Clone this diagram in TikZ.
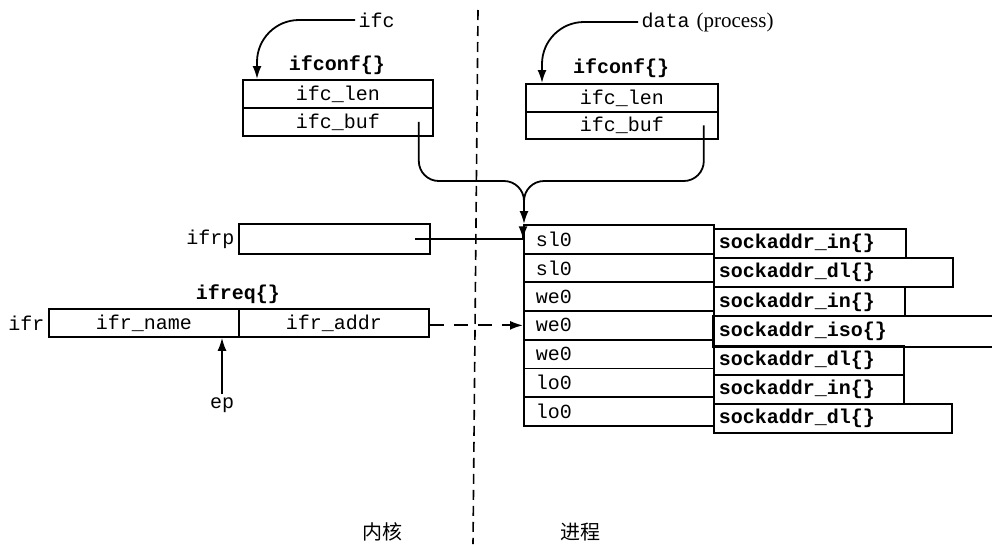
\documentclass[tikz,border=0pt]{standalone}
\usepackage{fontspec}
\setmainfont{Liberation Serif}
\setmonofont{Liberation Mono}
\newfontfamily\cjk{Noto Sans CJK SC}
\usetikzlibrary{arrows.meta}
\newcommand\myfs{\fontsize{20}{24}\selectfont}
\begin{document}
\begin{tikzpicture}[x=1pt,y=-1pt,
  every node/.style={font=\myfs\ttfamily},
  box/.style={draw, line width=1.8pt, anchor=north west, inner sep=0pt},
  lc/.style={draw, line width=1.8pt, anchor=north west, minimum height=28.7pt, text width=166pt, inner xsep=12pt, inner ysep=0pt, align=left},
  rc/.style={draw, line width=1.8pt, anchor=north west, minimum height=29.2pt, text width=#1, inner xsep=5pt, inner ysep=0pt, align=left, font=\myfs\ttfamily\bfseries},
  bold/.style={font=\myfs\ttfamily\bfseries},
  conn/.style={line width=1.8pt},
  arr/.style={line width=1.8pt, -{Latex[length=13pt,width=9pt]}},
  divider/.style={line width=1.6pt, dash pattern=on 10pt off 6pt}]
\useasboundingbox (0,0) rectangle (992,544);

% kernel / process divider
\draw[divider] (478,10) -- (473,544);

% left ifconf
\node[bold] (cfL) at (337,65) {ifconf\{\}};
\node[box, minimum width=190pt, minimum height=28pt] (lenL) at (242,79) {ifc\_len};
\node[box, minimum width=190pt, minimum height=28pt] (bufL) at (242,107) {ifc\_buf};
\node[anchor=west] (ifc) at (355,20) {ifc};
\draw[arr, rounded corners=42pt] (ifc.west) -| ([xshift=15pt]lenL.north west);

% right ifconf
\node[bold] (cfR) at (621,68) {ifconf\{\}};
\node[box, minimum width=192pt, minimum height=28pt] (lenR) at (525,83) {ifc\_len};
\node[box, minimum width=192pt, minimum height=27pt] (bufR) at (525,111) {ifc\_buf};
\node[anchor=west] (data) at (638,22) {data\hspace{-5pt} {\rmfamily\fontsize{21}{24}\selectfont (process)}};
\draw[arr, rounded corners=42pt] (data.west) -| ([xshift=17pt]lenR.north west);

% table: left column
\node[lc] (r1) at (523,224) {sl0};
\node[lc] (r2) at (523,252.7) {sl0};
\node[lc] (r3) at (523,281.4) {we0};
\node[lc] (r4) at (523,310.1) {we0};
\node[lc] (r5) at (523,338.8) {we0};
\node[lc] (r6) at (523,367.5) {lo0};
\node[lc] (r7) at (523,396.2) {lo0};

% table: right column
\node[rc=182pt] (s1) at (713,228) {sockaddr\_in\{\}};
\node[rc=229pt] (s2) at (713,257.2) {sockaddr\_dl\{\}};
\node[rc=181pt] (s3) at (713,286.4) {sockaddr\_in\{\}};
\node[rc=280pt, draw=none] (s4) at (713,315.6) {sockaddr\_iso\{\}};
\draw[line width=1.8pt] (s4.north east) -- (s4.north west) -- (s4.south west) -- (s4.south east);
\node[rc=180pt] (s5) at (713,344.8) {sockaddr\_dl\{\}};
\node[rc=180pt] (s6) at (713,374) {sockaddr\_in\{\}};
\node[rc=228pt] (s7) at (713,403.2) {sockaddr\_dl\{\}};

% buffer pointers merging into table
\coordinate (j) at (524,181);
\draw[arr, rounded corners=20pt] ([xshift=-15pt]bufL.east) |- (j) -- (j |- r1.north);
\draw[conn, rounded corners=20pt] ([xshift=-15pt]bufR.east) |- (j) -- ([yshift=-22pt]j);

% ifrp
\node[box, minimum width=191pt, minimum height=30pt] (ifrp) at (238,223) {};
\node[anchor=east] (ifrpl) at (ifrp.west) {ifrp};
\draw[arr] ([xshift=-16pt]ifrp.east) -- (ifrp.east -| r1.west) -- (r1.west);

% ifreq
\node[bold] (rq) at (238,294) {ifreq\{\}};
\node[box, minimum width=190pt, minimum height=28pt] (ifrname) at (48,308) {ifr\_name};
\node[box, minimum width=190pt, minimum height=28pt] (ifraddr) at (238,308) {ifr\_addr};
\node[anchor=east] (ifr) at (ifrname.west) {ifr};
\draw[arr, dash pattern=on 14pt off 10pt] (ifraddr.east |- r4.west) -- (r4.west);

% ep
\node (ep) at (222,405) {ep};
\draw[arr] (ep.north) -- (ep.north |- ifrname.south);

% side labels
\node[font=\cjk\myfs] (kern) at (382,532) {内核};
\node[font=\cjk\myfs] (proc) at (580,532) {进程};
\end{tikzpicture}
\end{document}
